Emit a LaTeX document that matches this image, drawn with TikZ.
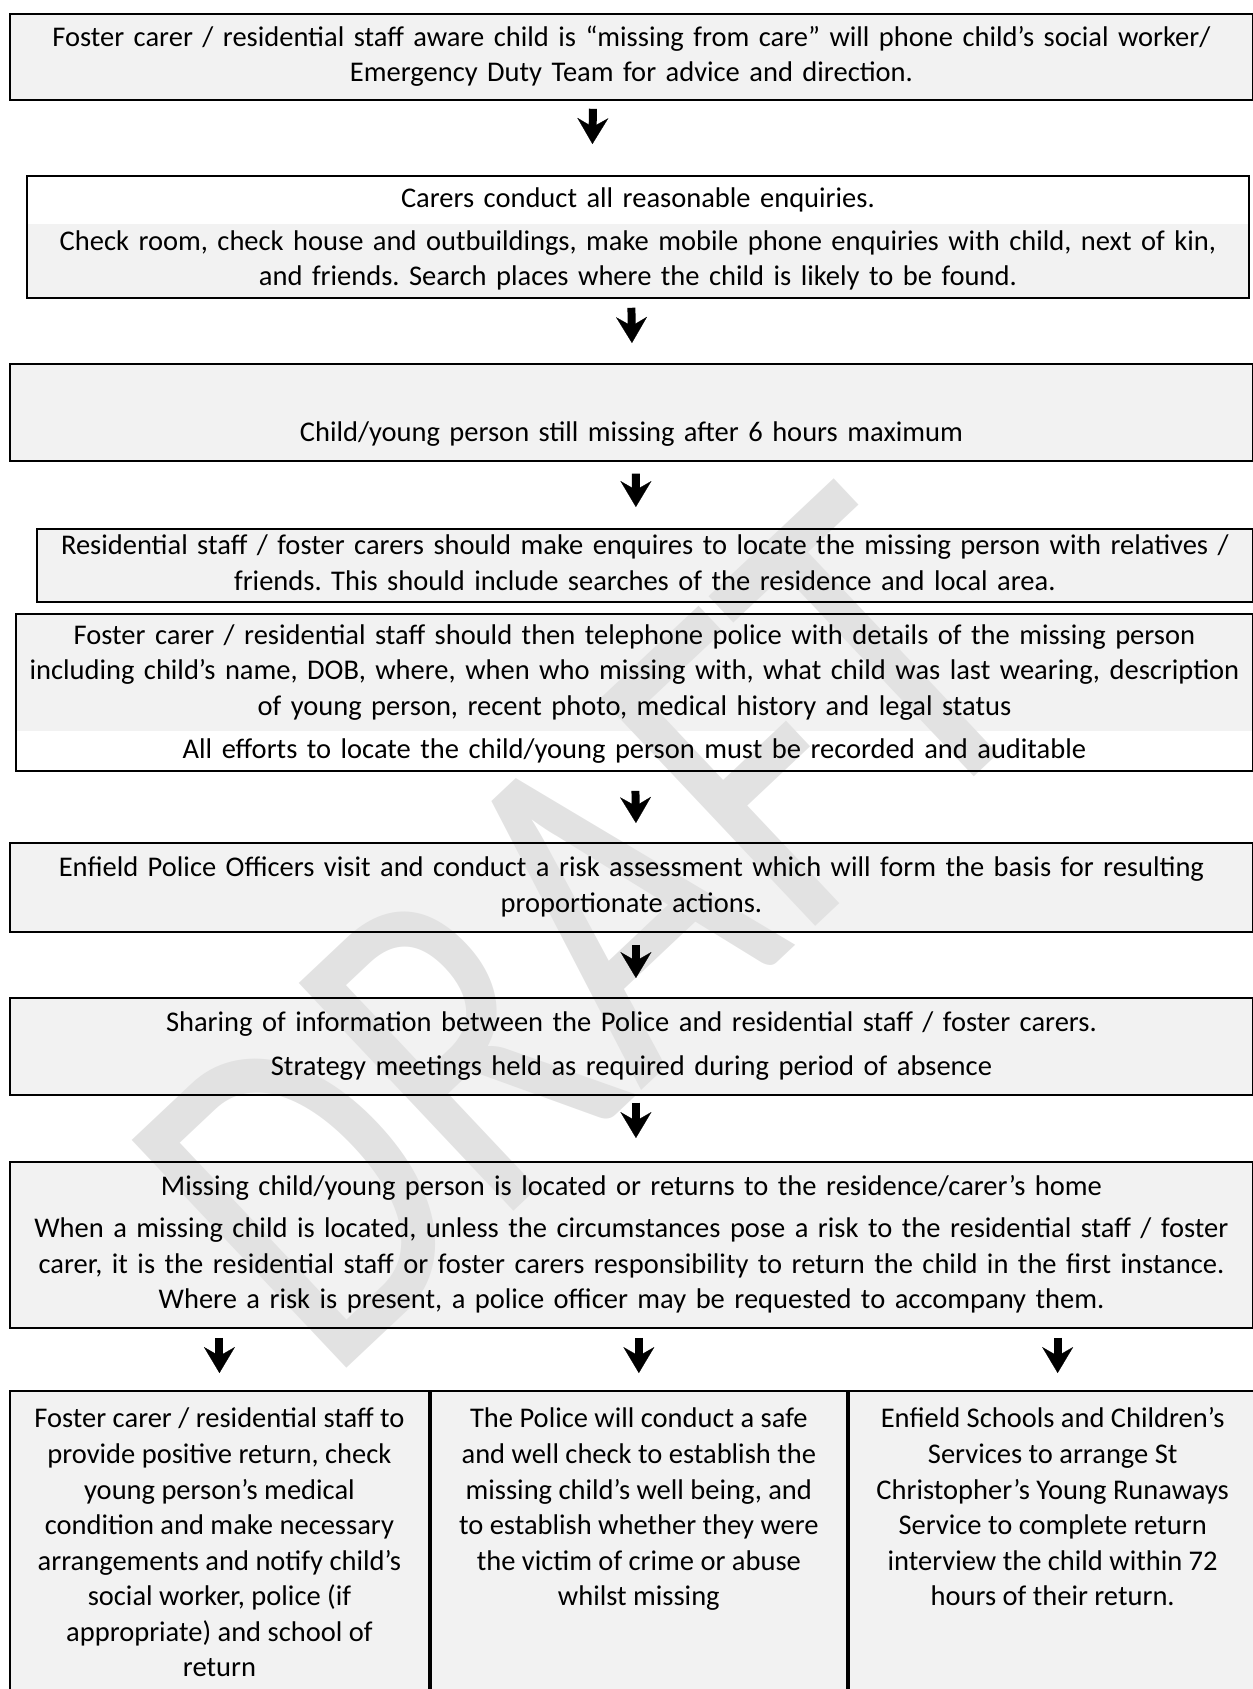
\documentclass[tikz,border=0pt]{standalone}
\usepackage{fontspec}
\setmainfont{Carlito}
\usepackage{graphicx}
\usetikzlibrary{arrows.meta,calc}
\frenchspacing
\definecolor{boxfill}{HTML}{F2F2F2}
\definecolor{markgray}{HTML}{E2E2E2}
\pgfdeclarelayer{bg}
\pgfdeclarelayer{wm}
\pgfsetlayers{bg,wm,main}
\tikzset{
  stepbox/.style 2 args={anchor=north west, inner sep=0pt, align=center,
    text width=#1, minimum height=#2, font=\fontsize{12.5pt}{15.6pt}\selectfont,
    execute at begin node=\strut, execute at end node=\strut},
  frame/.style={draw, line width=0.8pt},
  colbox/.style={anchor=north west, frame, inner xsep=0pt, inner ysep=5.3pt,
    font=\fontsize{12.5pt}{15.6pt}\selectfont},
  flowarrow/.style={line width=3.5pt,
    -{Stealth[width=13.6pt, length=11.4pt, inset=3.9pt, line width=0.1pt]}},
  wmark/.style={inner sep=0pt, text=markgray, font=\fontsize{214pt}{214pt}\selectfont}
}
\begin{document}
\begin{tikzpicture}[x=0.4386pt, y=-0.4386pt]
\useasboundingbox (0,0) rectangle (1253,1689);

\node[stepbox={545.2pt}{37.7pt}, frame] (b1) at (9,13)
  {Foster carer / residential staff aware child is “missing from care” will phone child’s social worker/\\
   Emergency Duty Team for advice and direction.};

\node[stepbox={535.5pt}{20.6pt}] (b2a) at (27,176) {Carers conduct all reasonable enquiries.};
\node[stepbox={535.5pt}{32pt}] (b2b) at (b2a.south west)
  {Check room, check house and outbuildings, make mobile phone enquiries with child, next of kin,\\
   and friends. Search places where the child is likely to be found.};
\draw[frame] (b2a.north west) rectangle (b2b.south east);

\node[stepbox={545.2pt}{42.5pt}, frame] (b3) at (9,363)
  {\mbox{}\\[4pt]Child/young person still missing after 6 hours maximum};

\node[stepbox={533.3pt}{32pt}, frame] (b4) at (36,528)
  {Residential staff / foster carers should make enquires to locate the missing person with relatives /\\
   friends. This should include searches of the residence and local area.};

\node[stepbox={542.1pt}{50.9pt}] (b5a) at (16,614)
  {Foster carer / residential staff should then telephone police with details of the missing person\\
   including child’s name, DOB, where, when who missing with, what child was last wearing, description\\
   of young person, recent photo, medical history and legal status};
\node[stepbox={542.1pt}{17.1pt}] (b5b) at (b5a.south west)
  {All efforts to locate the child/young person must be recorded and auditable};
\draw[frame] (b5a.north west) rectangle (b5b.south east);

\node[stepbox={545.2pt}{39pt}, frame] (b6) at (9,842)
  {Enfield Police Officers visit and conduct a risk assessment which will form the basis for resulting\\
   proportionate actions.};

\node[stepbox={545.2pt}{42.5pt}, frame] (b7) at (9,997)
  {Sharing of information between the Police and residential staff / foster carers.\\[4pt]
   Strategy meetings held as required during period of absence};

\node[stepbox={545.2pt}{72.8pt}, frame] (b8) at (9,1161)
  {Missing child/young person is located or returns to the residence/carer’s home\\[3pt]
   When a missing child is located, unless the circumstances pose a risk to the residential staff / foster\\
   carer, it is the residential staff or foster carers responsibility to return the child in the first instance.\\
   Where a risk is present, a police officer may be requested to accompany them.};

\node[colbox] (c1) at (9,1390) {\parbox[t][125.4pt][t]{183.8pt}{\centering\strut
  Foster carer / residential staff to\\ provide positive return, check\\ young person’s medical\\
  condition and make necessary\\ arrangements and notify child’s\\ social worker, police (if\\
  appropriate) and school of\\ return}};
\node[colbox] (c2) at (c1.north east) {\parbox[t][125.4pt][t]{182.5pt}{\centering\strut
  The Police will conduct a safe\\ and well check to establish the\\ missing child’s well being, and\\
  to establish whether they were\\ the victim of crime or abuse\\ whilst missing}};
\node[colbox] (c3) at (c2.north east) {\parbox[t][125.4pt][t]{178.9pt}{\centering\strut
  Enfield Schools and Children’s\\ Services to arrange St\\ Christopher’s Young Runaways\\
  Service to complete return\\ interview the child within 72\\ hours of their return.}};

% arrows
\draw[flowarrow] ($(b1.south)+(-38.5,8)$) -- ($(b2a.north)+(-45.5,-32)$);
\draw[flowarrow] ($(b2b.south)+(-6.5,10)$) -- ($(b3.north)+(0.5,-20)$);
\draw[flowarrow] ($(b3.south)+(4.5,12)$) -- ($(b4.north)+(-9,-21)$);
\draw[flowarrow] ($(b5b.south)+(1,20)$) -- ($(b6.north)+(4.5,-19)$);
\draw[flowarrow] ($(b6.south)+(4.5,12)$) -- ($(b7.north)+(4.5,-19)$);
\draw[flowarrow] ($(b7.south)+(4.5,7)$) -- ($(b8.north)+(4.5,-23)$);
\foreach \c/\dx in {c1/0, c2/0, c3/5}
  \draw[flowarrow] ($(b8.south -| \c.north)+(\dx,9)$) -- ($(\c.north)+(\dx,-17)$);

\begin{pgfonlayer}{bg}
\foreach \n in {b1,b2b,b3,b4,b5a,b6,b7,b8,c1,c2,c3}
  \fill[boxfill] (\n.north west) rectangle (\n.south east);
\end{pgfonlayer}

\begin{pgfonlayer}{wm}
\node[wmark, anchor=base west, rotate=43.3] (draft) at (328,1386) {\scalebox{0.76}[1]{DRAFT}};
\end{pgfonlayer}
\end{tikzpicture}
\end{document}
